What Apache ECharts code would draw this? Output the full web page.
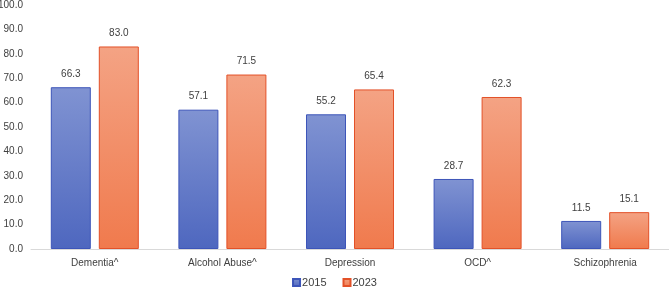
<!DOCTYPE html>
<html>
<head>
<meta charset="utf-8">
<script src="https://cdn.jsdelivr.net/npm/echarts@6/dist/echarts.min.js"></script>
<style>
  html, body { margin: 0; padding: 0; background: #fff; }
  #chart { width: 669px; height: 287px; }
</style>
</head>
<body>
<div id="chart"></div>
<script>
const categories = ['Dementia^', 'Alcohol Abuse^', 'Depression', 'OCD^', 'Schizophrenia'];
const values2015 = [66.3, 57.1, 55.2, 28.7, 11.5];
const values2023 = [83.0, 71.5, 65.4, 62.3, 15.1];

const font = 'Liberation Sans';
const textColor = '#404040';

const grad = (top, bottom) => new echarts.graphic.LinearGradient(0, 0, 0, 1, [
    { offset: 0, color: top },
    { offset: 1, color: bottom },
]);

const chart = echarts.init(document.getElementById('chart'));
chart.setOption({
    animation: false,
    grid: { top: 5, right: 0, bottom: 38, left: 31, outerBoundsMode: 'none', containLabel: false },
    legend: {
        top: 272,
        left: 'center',
        itemWidth: 7,
        itemHeight: 7,
        itemGap: 16,
        icon: 'rect',
        textStyle: { color: textColor, fontSize: 11, fontFamily: font, padding: [0, 0, 0, -3] },
        data: ['2015', '2023'],
    },
    xAxis: {
        type: 'category',
        data: categories,
        axisTick: { show: false },
        axisLine: { lineStyle: { color: '#d9d9d9', width: 1 } },
        axisLabel: { color: textColor, fontSize: 10, fontFamily: font, margin: 9 },
    },
    yAxis: {
        type: 'value',
        min: 0,
        max: 100,
        interval: 10,
        splitLine: { show: false },
        axisLine: { show: false },
        axisTick: { show: false },
        axisLabel: {
            color: textColor, fontSize: 10, fontFamily: font, margin: 8,
            formatter: v => v.toFixed(1),
        },
    },
    series: [
        {
            name: '2015',
            type: 'bar',
            data: values2015,
            barWidth: 40,
            barGap: '20%',
            itemStyle: {
                color: grad('#8093d2', '#4e67bf'),
                borderColor: '#3d55b9',
                borderWidth: 1,
            },
            label: {
                show: true, position: 'top', distance: 8,
                color: textColor, fontSize: 10, fontFamily: font,
                formatter: p => p.value.toFixed(1),
            },
        },
        {
            name: '2023',
            type: 'bar',
            data: values2023,
            barWidth: 40,
            itemStyle: {
                color: grad('#f4a384', '#f07a4d'),
                borderColor: '#e35128',
                borderWidth: 1,
            },
            label: {
                show: true, position: 'top', distance: 8,
                color: textColor, fontSize: 10, fontFamily: font,
                formatter: p => p.value.toFixed(1),
            },
        },
    ],
});
</script>
</body>
</html>
